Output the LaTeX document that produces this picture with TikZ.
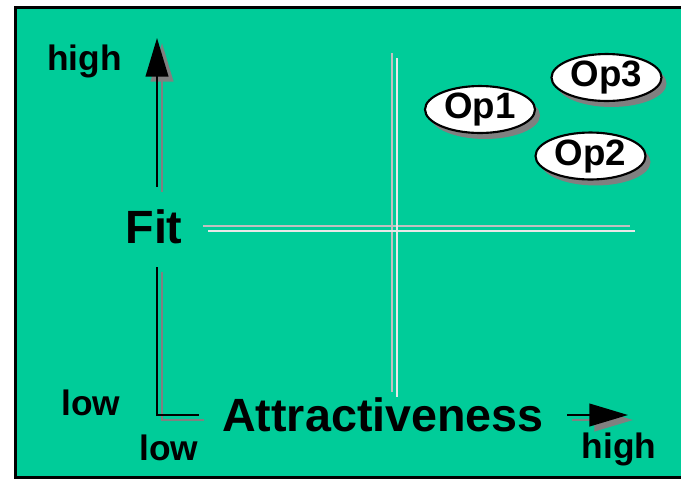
\documentclass[tikz,border=0pt]{standalone}
\usepackage{fontspec}
\setmainfont{Liberation Sans}
\usetikzlibrary{arrows.meta,shapes.geometric,shadows}
\definecolor{chartgreen}{RGB}{0,204,153}
\definecolor{shadowgray}{RGB}{128,128,128}
\definecolor{crossgray}{RGB}{192,192,192}
\definecolor{crosswhite}{RGB}{232,232,232}
\tikzset{
  lbl/.style={font=\bfseries\fontsize{26.5}{30}\selectfont, anchor=base, inner sep=0pt},
  big/.style={font=\bfseries\fontsize{35}{40}\selectfont, inner sep=0pt},
  opt/.style={ellipse, draw=black, line width=1.6pt, fill=white,
    minimum width=82.5pt, minimum height=33.75pt, inner sep=0pt,
    font=\bfseries\fontsize{27.5}{30}\selectfont,
    drop shadow={shadow xshift=3.75pt, shadow yshift=-4.5pt, fill=shadowgray, opacity=1}},
  axisline/.style={line width=1.5pt},
  axisarrow/.style={line width=1.5pt, -{Triangle[length=29pt,width=17pt]}}
}

\begin{document}
\begin{tikzpicture}[x=0.75pt,y=-0.75pt]
\useasboundingbox (0,0) rectangle (681,480);
\draw[line width=2.25pt, fill=chartgreen] (15,7) rectangle (700,477);
% cross lines
\draw[crossgray, line width=1.5pt] (392,53) -- (392,392) (203,226) -- (630,226);
\draw[crosswhite, line width=1.5pt] (397,58) -- (397,397) (208,231) -- (635,231);
% axes
\coordinate (O) at (157,415);
\coordinate (ytop) at (157,38);
\coordinate (xtop) at (628,415);
\node[big, minimum height=60pt] (fit) at (154,227) {Fit};
\node[big, minimum width=276pt] (attr) at (383,415) {Attractiveness};
\foreach \c/\s in {shadowgray/3.75pt, black/0pt}{
  \draw[axisarrow, \c, transform canvas={xshift=\s, yshift=-\s}] (O |- fit.north) -- (ytop);
  \draw[axisline, \c, transform canvas={xshift=\s, yshift=-\s}] (O |- fit.south) -- (O) -- (attr.west);
  \draw[axisarrow, \c, transform canvas={xshift=\s, yshift=-\s}] (attr.east) -- (xtop);
}
\node[lbl] (yhigh) at (84.5,70) {high}; %label
\node[lbl] (ylow) at (91,415) {low};
\node[lbl] (xlow) at (169,460) {low};
\node[lbl] (xhigh) at (619,458) {high};
% options
\node[opt] (op1) at (480,109.5) {Op1};
\node[opt] (op3) at (606.5,77.5) {Op3};
\node[opt] (op2) at (590.5,156) {Op2};
\end{tikzpicture}
\end{document}
